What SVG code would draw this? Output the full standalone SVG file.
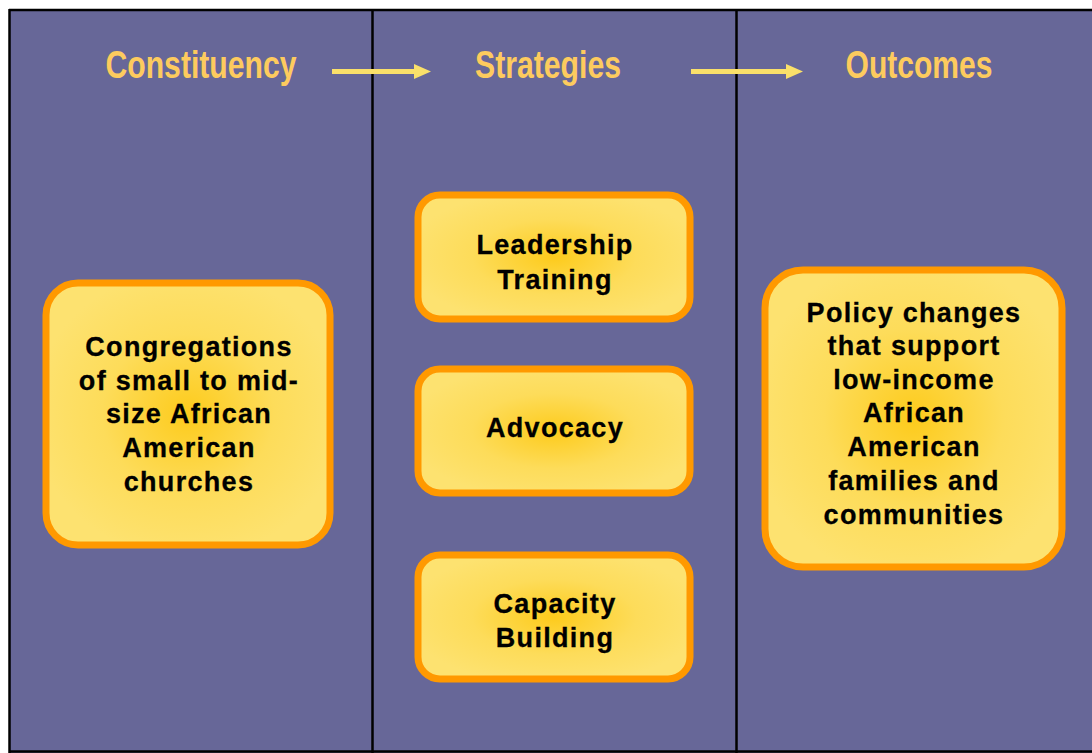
<svg xmlns="http://www.w3.org/2000/svg" width="1092" height="753" viewBox="0 0 1092 753">
  <defs>
    <radialGradient id="boxFill" cx="50%" cy="50%" r="55%">
      <stop offset="0" stop-color="#FDCB1C"/>
      <stop offset="0.55" stop-color="#FDDC5A"/>
      <stop offset="1" stop-color="#FDE270"/>
    </radialGradient>
    <style>
      .panel { fill: #676798; }
      .rule { stroke: #000; stroke-width: 2.5; }
      .title { font-family: "Liberation Sans Narrow", "Liberation Sans", Arial, sans-serif; font-weight: bold; font-size: 38px; fill: #FDCB5E; text-anchor: middle; }
      .box { fill: url(#boxFill); stroke: #FF9900; stroke-width: 7; }
      .label { font-family: "Liberation Sans", Arial, sans-serif; font-weight: bold; font-size: 27px; letter-spacing: 1.3px; fill: #000; stroke: #000; stroke-width: 0.3; text-anchor: middle; }
      .flow { stroke: #FAE06A; stroke-width: 5; fill: none; }
      .head { fill: #FAE06A; }
    </style>
  </defs>

  <rect x="0" y="0" width="1092" height="753" fill="#ffffff"/>

  <!-- three columns -->
  <g id="frame">
    <rect class="panel" x="9" y="9" width="1083" height="744"/>
    <line class="rule" x1="9" y1="10" x2="1092" y2="10" stroke-width="3"/>
    <line class="rule" x1="9.5" y1="9" x2="9.5" y2="753" stroke-width="3"/>
    <line class="rule" x1="9" y1="751.5" x2="1092" y2="751.5"/>
    <line class="rule" x1="372.5" y1="9" x2="372.5" y2="753"/>
    <line class="rule" x1="736.5" y1="9" x2="736.5" y2="753"/>
  </g>

  <g id="headings">
    <text class="title" x="201" y="78" textLength="191" lengthAdjust="spacingAndGlyphs">Constituency</text>
    <text class="title" x="548" y="78" textLength="146" lengthAdjust="spacingAndGlyphs">Strategies</text>
    <text class="title" x="919" y="78" textLength="147" lengthAdjust="spacingAndGlyphs">Outcomes</text>
  </g>

  <g id="connectors">
    <line class="flow" x1="332" y1="71.5" x2="416" y2="71.5"/>
    <polygon class="head" points="414,64 431,71.5 414,79"/>
    <line class="flow" x1="691" y1="71.5" x2="788" y2="71.5"/>
    <polygon class="head" points="786,64 803,71.5 786,79"/>
  </g>

  <g id="constituency">
    <rect class="box" x="46" y="283" width="284" height="262" rx="32"/>
    <text class="label" x="189" y="356">Congregations</text>
    <text class="label" x="189" y="390">of small to mid-</text>
    <text class="label" x="189" y="423">size African</text>
    <text class="label" x="189" y="457">American</text>
    <text class="label" x="189" y="491">churches</text>
  </g>

  <g id="leadership-training">
    <rect class="box" x="418" y="195" width="272" height="124" rx="22"/>
    <text class="label" x="555" y="254">Leadership</text>
    <text class="label" x="555" y="289">Training</text>
  </g>

  <g id="advocacy">
    <rect class="box" x="418" y="369" width="272" height="124" rx="22"/>
    <text class="label" x="555" y="437">Advocacy</text>
  </g>

  <g id="capacity-building">
    <rect class="box" x="418" y="555" width="272" height="124" rx="22"/>
    <text class="label" x="555" y="613">Capacity</text>
    <text class="label" x="555" y="647">Building</text>
  </g>

  <g id="outcomes">
    <rect class="box" x="765" y="270" width="297" height="297" rx="38"/>
    <text class="label" x="914" y="322">Policy changes</text>
    <text class="label" x="914" y="355">that support</text>
    <text class="label" x="914" y="389">low-income</text>
    <text class="label" x="914" y="422">African</text>
    <text class="label" x="914" y="456">American</text>
    <text class="label" x="914" y="490">families and</text>
    <text class="label" x="914" y="524">communities</text>
  </g>
</svg>
